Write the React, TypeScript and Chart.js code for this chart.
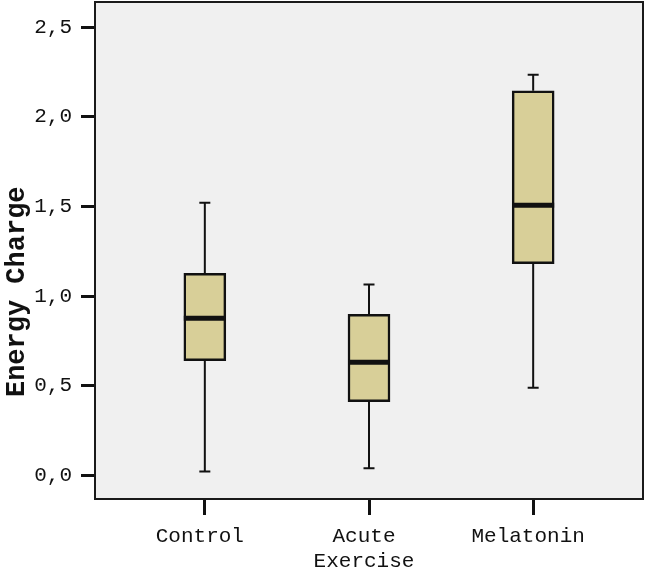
import React, { useEffect, useRef } from "react";
import { Chart, registerables } from "chart.js";

Chart.register(...registerables);

const categories: string[][] = [["Control"], ["Acute", "Exercise"], ["Melatonin"]];
const positions = [1, 2, 3];
const whiskerLow = [0.022, 0.041, 0.49];
const q1 = [0.641, 0.412, 1.182];
const median = [0.877, 0.632, 1.507];
const q3 = [1.128, 0.899, 2.146];
const whiskerHigh = [1.522, 1.065, 2.235];
const yTicks = [0, 0.5, 1.0, 1.5, 2.0, 2.5];
const yTitle = "Energy Charge";

const BOX_FILL = "#d8cf98";
const INK = "#111111";
const MONO = "'Liberation Mono', 'DejaVu Sans Mono', monospace";

const boxPlugin = {
  id: "boxParts",
  beforeDraw(chart: any) {
    const { ctx, chartArea: a } = chart;
    ctx.save();
    ctx.fillStyle = "#f0f0f0";
    ctx.fillRect(a.left, a.top, a.right - a.left, a.bottom - a.top);
    ctx.restore();
  },
  afterDatasetsDraw(chart: any) {
    const { ctx } = chart;
    const xs = chart.scales.x;
    const ys = chart.scales.y;
    const half = 21;
    const cap = 5.5;
    ctx.save();
    ctx.strokeStyle = INK;
    for (let i = 0; i < positions.length; i++) {
      const x = xs.getPixelForValue(positions[i]);
      const yLo = ys.getPixelForValue(whiskerLow[i]);
      const yQ1 = ys.getPixelForValue(q1[i]);
      const yQ3 = ys.getPixelForValue(q3[i]);
      const yHi = ys.getPixelForValue(whiskerHigh[i]);
      const yMed = ys.getPixelForValue(median[i]);
      ctx.lineWidth = 2;
      ctx.beginPath();
      ctx.moveTo(x, yLo);
      ctx.lineTo(x, yQ1);
      ctx.moveTo(x, yQ3);
      ctx.lineTo(x, yHi);
      ctx.moveTo(x - cap, yLo);
      ctx.lineTo(x + cap, yLo);
      ctx.moveTo(x - cap, yHi);
      ctx.lineTo(x + cap, yHi);
      ctx.stroke();
      ctx.lineWidth = 5;
      ctx.beginPath();
      ctx.moveTo(x - half, yMed);
      ctx.lineTo(x + half, yMed);
      ctx.stroke();
    }
    ctx.restore();
  },
  afterDraw(chart: any) {
    const { ctx, chartArea: a } = chart;
    ctx.save();
    ctx.strokeStyle = "#1a1a1a";
    ctx.lineWidth = 2;
    ctx.strokeRect(a.left, a.top, a.right - a.left, a.bottom - a.top);
    // y axis title
    const cy = a.top + (a.bottom - a.top) * 0.583;
    ctx.translate(24, cy);
    ctx.rotate(-Math.PI / 2);
    ctx.fillStyle = INK;
    ctx.font = `bold 27px ${MONO}`;
    ctx.textAlign = "center";
    ctx.textBaseline = "alphabetic";
    ctx.fillText(yTitle, 0, 0);
    ctx.restore();
  },
};

export default function App() {
  const ref = useRef<HTMLCanvasElement | null>(null);
  useEffect(() => {
    document.body.style.margin = "0";
    if (!ref.current) return;
    const chart = new Chart(ref.current, {
      type: "bar",
      data: {
        datasets: [
          {
            data: positions.map((p, i) => ({ x: p, y: [q1[i], q3[i]] })) as any,
            backgroundColor: BOX_FILL,
            borderColor: INK,
            borderWidth: 2.5,
            borderSkipped: false,
            barThickness: 42,
          },
        ],
      },
      options: {
        responsive: false,
        animation: false,
        layout: { padding: { top: 2, right: 3, left: 0, bottom: 0 } },
        plugins: { legend: { display: false }, tooltip: { enabled: false } },
        scales: {
          x: {
            type: "linear",
            offset: false,
            min: 0.331,
            max: 3.669,
            afterBuildTicks: (s: any) => {
              s.ticks = positions.map((v) => ({ value: v }));
            },
            afterFit: (s: any) => {
              s.height = 71;
              s.paddingLeft = 0;
              s.paddingRight = 0;
            },
            grid: {
              offset: false,
              drawOnChartArea: false,
              drawTicks: true,
              tickLength: 16,
              tickColor: INK,
              tickWidth: 3,
              lineWidth: 3,
            },
            border: { display: false },
            ticks: {
              autoSkip: false,
              maxRotation: 0,
              padding: 9,
              labelOffset: -5,
              color: INK,
              font: { family: MONO, size: 21, lineHeight: 1.2 },
              callback: (_v: any, i: number) => categories[i],
            },
          },
          y: {
            type: "linear",
            min: -0.131,
            max: 2.641,
            afterBuildTicks: (s: any) => {
              s.ticks = yTicks.map((v) => ({ value: v }));
            },
            afterFit: (s: any) => {
              s.width = 95;
              s.paddingTop = 0;
              s.paddingBottom = 0;
            },
            grid: {
              drawOnChartArea: false,
              drawTicks: true,
              tickLength: 14,
              tickColor: INK,
              tickWidth: 3,
              lineWidth: 3,
            },
            border: { display: false },
            ticks: {
              padding: 9,
              color: INK,
              font: { family: MONO, size: 21 },
              callback: (v: any) => Number(v).toFixed(1).replace(".", ","),
            },
          },
        },
      },
      plugins: [boxPlugin],
    });
    return () => chart.destroy();
  }, []);
  return <canvas ref={ref} width={646} height={570} style={{ display: "block" }} />;
}
